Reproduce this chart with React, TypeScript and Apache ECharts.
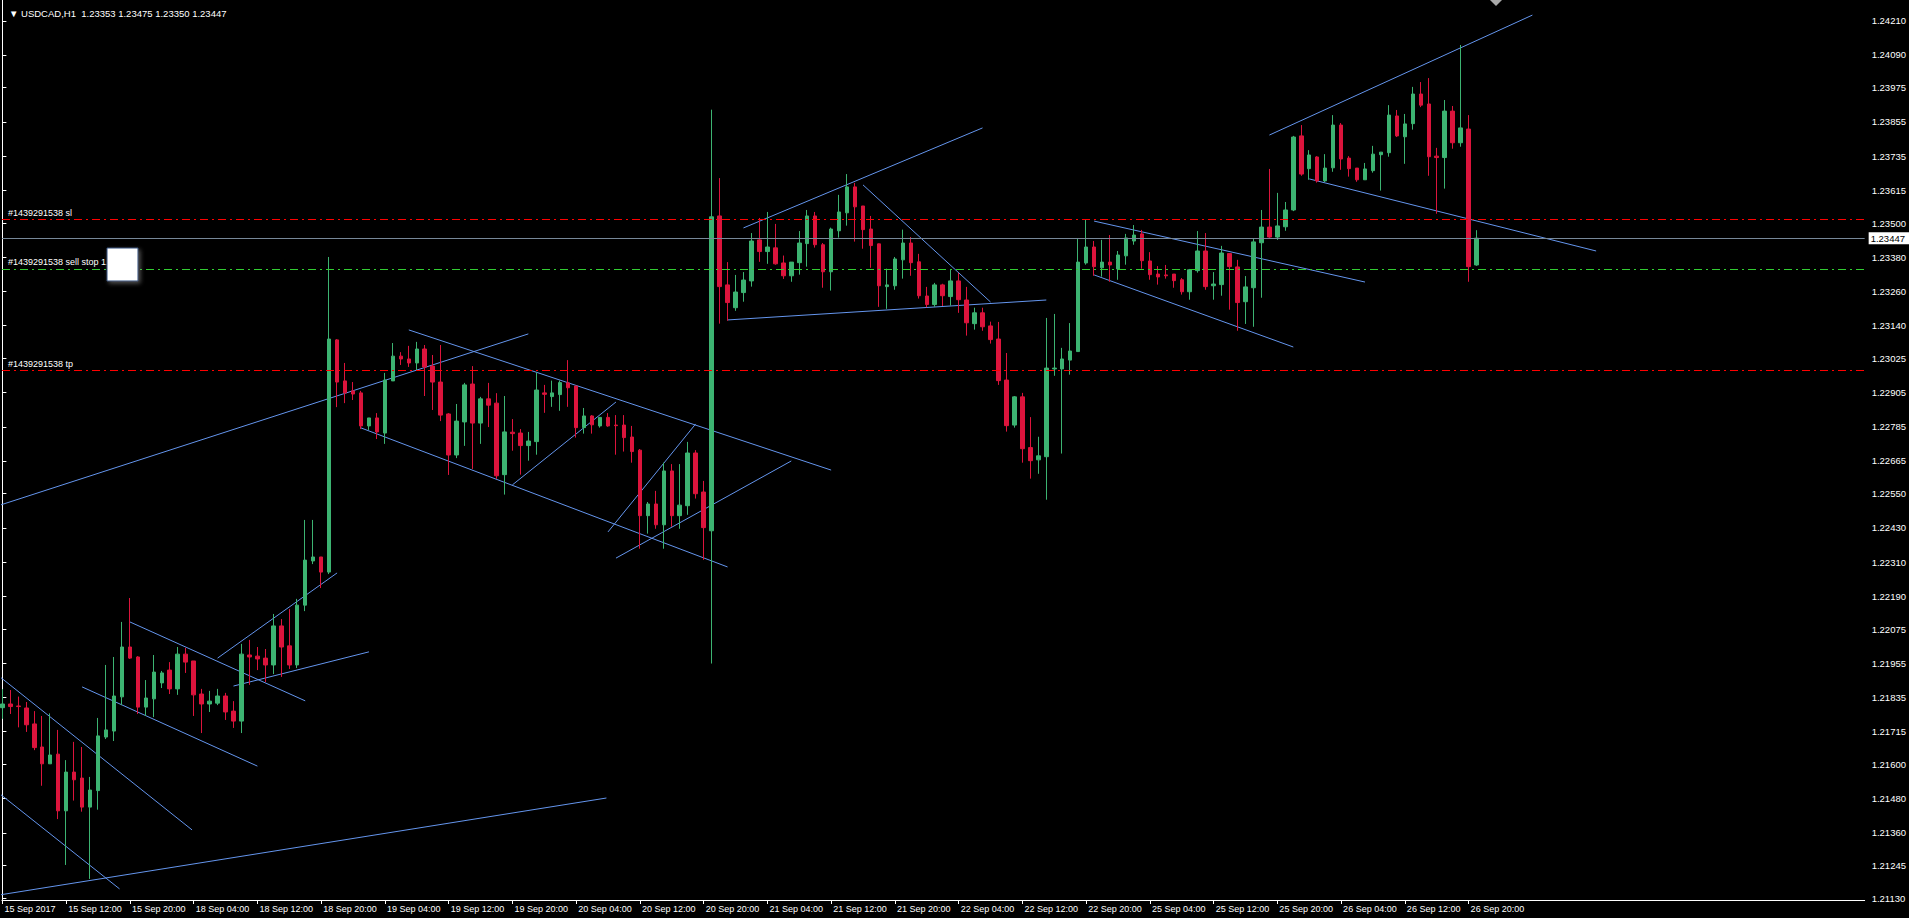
import React, { useEffect, useRef } from "react";
import * as echarts from "echarts";

const FONT = "'Liberation Sans', Arial, sans-serif";

// ---- data (USDCAD H1) ----
const opens = [
1.21799,1.21812,1.21805,1.21798,1.21742,1.21661,1.21602,1.21636,1.21437,1.21573,
1.21552,1.21450,1.21508,1.21696,1.21717,1.21837,1.22012,1.21977,1.21801,1.21830,
1.21886,1.21931,1.21865,1.21987,1.21963,1.21847,1.21812,1.21815,1.21840,1.21787,
1.21752,1.21984,1.21980,1.21973,1.21949,1.22086,1.22016,1.21949,1.22159,1.22314,
1.22328,1.22275,1.23090,1.22946,1.22911,1.22904,1.22788,1.22816,1.22763,1.22946,
1.23033,1.23023,1.23009,1.23058,1.22998,1.22942,1.22830,1.22686,1.22802,1.22935,
1.22798,1.22883,1.22868,1.22617,1.22766,1.22763,1.22719,1.22733,1.22904,1.22891,
1.22898,1.22939,1.22928,1.22782,1.22823,1.22788,1.22818,1.22791,1.22791,1.22749,
1.22703,1.22473,1.22514,1.22441,1.22630,1.22473,1.22508,1.22693,1.22556,1.22420,
1.23525,1.23283,1.23203,1.23256,1.23297,1.23441,1.23400,1.23413,1.23360,1.23315,
1.23361,1.23428,1.23525,1.23424,1.23329,1.23473,1.23536,1.23627,1.23560,1.23479,
1.23427,1.23277,1.23280,1.23371,1.23430,1.23364,1.23244,1.23214,1.23283,1.23242,
1.23297,1.23230,1.23147,1.23185,1.23139,1.23093,1.22949,1.22791,1.22890,1.22712,
1.22669,1.22680,1.22988,1.22988,1.23019,1.23049,1.23360,1.23416,1.23343,1.23363,
1.23339,1.23385,1.23437,1.23462,1.23367,1.23321,1.23318,1.23321,1.23301,1.23259,
1.23333,1.23402,1.23280,1.23284,1.23393,1.23346,1.23224,1.23273,1.23431,1.23486,
1.23451,1.23487,1.23546,1.23806,1.23691,1.23732,1.23648,1.23694,1.23844,1.23728,
1.23693,1.23652,1.23684,1.23740,1.23747,1.23876,1.23803,1.23849,1.23953,1.23918,
1.23735,1.23730,1.23893,1.23782,1.23830,1.23353];
const closes = [
1.21812,1.21803,1.21803,1.21739,1.21659,1.21602,1.21633,1.21437,1.21573,1.21546,
1.21450,1.21510,1.21700,1.21721,1.21840,1.22012,1.21973,1.21801,1.21833,1.21924,
1.21921,1.21865,1.21987,1.21959,1.21844,1.21812,1.21822,1.21840,1.21784,1.21752,
1.21987,1.21977,1.21970,1.21949,1.22086,1.22012,1.21949,1.22159,1.22317,1.22328,
1.22275,1.23093,1.22942,1.22904,1.22900,1.22788,1.22816,1.22767,1.22949,1.23033,
1.23023,1.23009,1.23058,1.22995,1.22942,1.22826,1.22686,1.22805,1.22932,1.22798,
1.22883,1.22861,1.22613,1.22767,1.22761,1.22719,1.22735,1.22914,1.22899,1.22904,
1.22940,1.22922,1.22782,1.22823,1.22792,1.22818,1.22788,1.22789,1.22747,1.22698,
1.22473,1.22514,1.22441,1.22630,1.22473,1.22510,1.22693,1.22550,1.22431,1.23522,
1.23277,1.23221,1.23258,1.23300,1.23437,1.23400,1.23416,1.23357,1.23315,1.23363,
1.23430,1.23525,1.23424,1.23329,1.23479,1.23539,1.23627,1.23557,1.23477,1.23421,
1.23280,1.23283,1.23374,1.23430,1.23361,1.23245,1.23214,1.23283,1.23245,1.23297,
1.23231,1.23150,1.23185,1.23136,1.23091,1.22947,1.22789,1.22890,1.22708,1.22666,
1.22683,1.22991,1.22991,1.23023,1.23051,1.23363,1.23416,1.23347,1.23363,1.23353,
1.23388,1.23448,1.23458,1.23368,1.23319,1.23311,1.23315,1.23298,1.23259,1.23336,
1.23402,1.23277,1.23286,1.23395,1.23347,1.23221,1.23276,1.23434,1.23486,1.23451,
1.23490,1.23546,1.23802,1.23672,1.23739,1.23648,1.23693,1.23844,1.23725,1.23691,
1.23652,1.23690,1.23742,1.23749,1.23879,1.23806,1.23848,1.23953,1.23914,1.23733,
1.23730,1.23893,1.23782,1.23834,1.23347,1.23447];
const lows = [
1.21760,1.21777,1.21730,1.21714,1.21650,1.21525,1.21602,1.21408,1.21247,1.21473,
1.21434,1.21198,1.21441,1.21689,1.21682,1.21808,1.21970,1.21777,1.21770,1.21766,
1.21868,1.21847,1.21844,1.21921,1.21770,1.21710,1.21784,1.21808,1.21756,1.21728,
1.21710,1.21879,1.21931,1.21889,1.21917,1.21907,1.21935,1.21938,1.22138,1.22303,
1.22219,1.22268,1.22854,1.22868,1.22879,1.22777,1.22774,1.22742,1.22725,1.22946,
1.23002,1.22995,1.22984,1.22893,1.22844,1.22805,1.22616,1.22675,1.22718,1.22637,
1.22725,1.22784,1.22602,1.22547,1.22701,1.22617,1.22666,1.22687,1.22834,1.22855,
1.22841,1.22855,1.22747,1.22761,1.22761,1.22782,1.22785,1.22687,1.22698,1.22659,
1.22357,1.22410,1.22427,1.22357,1.22434,1.22427,1.22476,1.22533,1.22318,1.21954,
1.23147,1.23157,1.23192,1.23224,1.23277,1.23364,1.23357,1.23354,1.23304,1.23294,
1.23319,1.23347,1.23414,1.23273,1.23263,1.23449,1.23491,1.23435,1.23410,1.23343,
1.23206,1.23199,1.23266,1.23305,1.23315,1.23235,1.23204,1.23206,1.23209,1.23210,
1.23185,1.23105,1.23126,1.23122,1.23077,1.22932,1.22768,1.22782,1.22659,1.22603,
1.22620,1.22529,1.22964,1.22691,1.22968,1.23049,1.23354,1.23315,1.23312,1.23294,
1.23301,1.23354,1.23424,1.23340,1.23301,1.23284,1.23305,1.23273,1.23249,1.23231,
1.23326,1.23266,1.23231,1.23245,1.23196,1.23122,1.23146,1.23136,1.23238,1.23448,
1.23441,1.23473,1.23542,1.23666,1.23652,1.23642,1.23644,1.23680,1.23687,1.23663,
1.23645,1.23652,1.23677,1.23614,1.23733,1.23802,1.23708,1.23828,1.23907,1.23666,
1.23533,1.23621,1.23761,1.23768,1.23294,1.23350];
const highs = [
1.21864,1.21861,1.21838,1.21819,1.21787,1.21770,1.21779,1.21721,1.21615,1.21679,
1.21661,1.21556,1.21763,1.21949,1.21977,1.22100,1.22184,1.21980,1.21896,1.21984,
1.21928,1.21959,1.22012,1.22009,1.21963,1.21865,1.21858,1.21865,1.21851,1.21822,
1.22023,1.22037,1.22012,1.22005,1.22128,1.22110,1.22145,1.22181,1.22458,1.22458,
1.22328,1.23381,1.23093,1.23009,1.22942,1.22911,1.22816,1.22833,1.22974,1.23079,
1.23047,1.23069,1.23083,1.23072,1.23037,1.23072,1.22833,1.22865,1.22939,1.22998,
1.22890,1.22939,1.22903,1.22893,1.22812,1.22777,1.22767,1.22975,1.22932,1.22947,
1.22947,1.23019,1.22928,1.22851,1.22826,1.22818,1.22833,1.22826,1.22826,1.22788,
1.22707,1.22521,1.22560,1.22659,1.22654,1.22654,1.22732,1.22703,1.22595,1.23898,
1.23658,1.23363,1.23318,1.23328,1.23465,1.23518,1.23539,1.23497,1.23386,1.23363,
1.23472,1.23546,1.23539,1.23430,1.23484,1.23599,1.23672,1.23641,1.23560,1.23525,
1.23428,1.23340,1.23381,1.23477,1.23451,1.23392,1.23276,1.23290,1.23287,1.23336,
1.23325,1.23276,1.23203,1.23203,1.23154,1.23153,1.23044,1.22893,1.22904,1.22819,
1.22750,1.23167,1.23181,1.23062,1.23149,1.23445,1.23512,1.23437,1.23441,1.23458,
1.23402,1.23462,1.23493,1.23476,1.23398,1.23349,1.23353,1.23321,1.23307,1.23339,
1.23472,1.23465,1.23328,1.23420,1.23395,1.23371,1.23314,1.23444,1.23546,1.23690,
1.23606,1.23574,1.23806,1.23844,1.23756,1.23735,1.23742,1.23879,1.23851,1.23735,
1.23693,1.23711,1.23771,1.23749,1.23914,1.23897,1.23883,1.23978,1.23995,1.24009,
1.23764,1.23932,1.23911,1.24125,1.23879,1.23475];

const timeLabels = [
  "15 Sep 2017", "15 Sep 12:00", "15 Sep 20:00", "18 Sep 04:00", "18 Sep 12:00", "18 Sep 20:00",
  "19 Sep 04:00", "19 Sep 12:00", "19 Sep 20:00", "20 Sep 04:00", "20 Sep 12:00", "20 Sep 20:00",
  "21 Sep 04:00", "21 Sep 12:00", "21 Sep 20:00", "22 Sep 04:00", "22 Sep 12:00", "22 Sep 20:00",
  "25 Sep 04:00", "25 Sep 12:00", "25 Sep 20:00", "26 Sep 04:00", "26 Sep 12:00", "26 Sep 20:00",
];
const barsPerLabel = 8;

const priceLabels = [
  "1.24210", "1.24090", "1.23975", "1.23855", "1.23735", "1.23615", "1.23500", "1.23380", "1.23260",
  "1.23140", "1.23025", "1.22905", "1.22785", "1.22665", "1.22550", "1.22430", "1.22310", "1.22190",
  "1.22075", "1.21955", "1.21835", "1.21715", "1.21600", "1.21480", "1.21360", "1.21245", "1.21130",
];

const priceMin = 1.21124;
const priceMax = 1.24283;

// order levels
const slPrice = 1.23514;
const sellStopPrice = 1.23339;
const tpPrice = 1.22984;
const bidPrice = 1.23447;
const orderId = "#1439291538";

// trend lines: [barIndex1, price1, barIndex2, price2]
const trendLines = [
  [-0.3, 1.21907, 23.8, 1.21370],
  [-0.3, 1.21496, 14.7, 1.21163],
  [10, 1.21872, 32, 1.21594],
  [16, 1.22100, 38, 1.21823],
  [27, 1.21973, 42, 1.22272],
  [29, 1.21875, 46, 1.21995],
  [-0.3, 1.21142, 75.8, 1.21482],
  [-0.3, 1.22510, 66, 1.23111],
  [51, 1.23125, 104, 1.22633],
  [45, 1.22781, 91, 1.22293],
  [64, 1.22581, 77, 1.22872],
  [76, 1.22416, 87, 1.22795],
  [77, 1.22324, 99, 1.22665],
  [93, 1.23483, 123, 1.23834],
  [108, 1.23634, 124, 1.23223],
  [91, 1.23160, 131, 1.23230],
  [137, 1.23507, 171, 1.23293],
  [137, 1.23318, 162, 1.23065],
  [159, 1.23809, 192, 1.24230],
  [164, 1.23655, 200, 1.23402],
];

const header = "\u25BC USDCAD,H1  1.23353 1.23475 1.23350 1.23447";

export default function App() {
  const ref = useRef<HTMLDivElement>(null);
  useEffect(() => {
    if (!ref.current) return;
    document.body.style.margin = "0";
    document.body.style.background = "#000";
    const chart = echarts.init(ref.current, null, { renderer: "svg" });
    const W = 1909;
    const gridLeft = 2;
    const gridRight = 37;
    const barPx = 8;
    const xMin = -0.05;
    const xMax = xMin + (W - gridLeft - gridRight) / barPx;
    const xTickVals = timeLabels.map((_, k) => k * barsPerLabel);
    const yTickVals = priceLabels.map((s) => parseFloat(s));
    const DASHDOT = [8, 4, 2, 4];

    const candleData = opens.map((o, i) => [i, o, closes[i], lows[i], highs[i]]);

    const lineSeries = trendLines.map((t) => ({
      type: "line",
      data: [[t[0], t[1]], [t[2], t[3]]],
      showSymbol: false,
      symbol: "none",
      silent: true,
      lineStyle: { color: "#6495ED", width: 1 },
      z: 3,
    }));

    const orderLabel = (text: string) => ({
      show: true,
      position: "insideStartTop",
      formatter: text,
      color: "#ffffff",
      fontSize: 9,
      fontFamily: FONT,
      distance: [6, 2],
    });

    const levelSeries = {
      type: "line",
      data: [[xMin, bidPrice], [xMax, bidPrice]],
      showSymbol: false,
      symbol: "none",
      silent: true,
      lineStyle: { color: "#778899", width: 1, opacity: 0 },
      z: 2,
      markLine: {
        silent: true,
        symbol: ["none", "none"],
        precision: 5,
        animation: false,
        data: [
          { yAxis: slPrice, lineStyle: { color: "#FF0000", type: DASHDOT, width: 1 }, label: orderLabel(orderId + " sl") },
          { yAxis: sellStopPrice, lineStyle: { color: "#32CD32", type: DASHDOT, width: 1 }, label: orderLabel(orderId + " sell stop 1.23339") },
          { yAxis: tpPrice, lineStyle: { color: "#FF0000", type: DASHDOT, width: 1 }, label: orderLabel(orderId + " tp") },
          {
            yAxis: bidPrice,
            lineStyle: { color: "#778899", type: "solid", width: 1 },
            label: {
              show: true,
              position: "end",
              formatter: bidPrice.toFixed(5),
              color: "#000000",
              backgroundColor: "#ffffff",
              padding: [1, 4, 1, 2],
              fontSize: 9.5,
              fontFamily: FONT,
              distance: 4,
            },
          },
        ],
      },
    };

    const option: any = {
      animation: false,
      backgroundColor: "#000000",
      textStyle: { fontFamily: FONT },
      title: {
        text: header,
        left: 4,
        top: 3,
        textStyle: { color: "#ffffff", fontSize: 9.5, fontWeight: "normal", fontFamily: FONT },
      },
      grid: { left: gridLeft, right: gridRight, top: 0, bottom: 18 },
      xAxis: {
        type: "value",
        min: xMin,
        max: xMax,
        splitLine: { show: false },
        axisLine: { show: true, onZero: false, lineStyle: { color: "#ffffff", width: 1 } },
        axisTick: {
          show: true,
          customValues: xTickVals,
          length: 4,
          lineStyle: { color: "#ffffff" },
        },
        axisLabel: {
          customValues: xTickVals,
          formatter: (v: number) => timeLabels[Math.round(v / barsPerLabel)] ?? "",
          color: "#ffffff",
          fontSize: 9,
          fontFamily: FONT,
          align: "left",
          margin: 4,
          padding: [0, 0, 0, 2],
        },
      },
      yAxis: [
        {
          type: "value",
          position: "right",
          min: priceMin,
          max: priceMax,
          splitLine: { show: false },
          axisLine: { show: true, lineStyle: { color: "#ffffff", width: 1 } },
          axisTick: {
            show: true,
            customValues: yTickVals,
            length: 4,
            lineStyle: { color: "#ffffff" },
          },
          axisLabel: {
            customValues: yTickVals,
            formatter: (v: number) => v.toFixed(5),
            color: "#ffffff",
            fontSize: 9.5,
            fontFamily: FONT,
            margin: 7,
          },
        },
        {
          type: "value",
          position: "left",
          min: priceMin,
          max: priceMax,
          splitLine: { show: false },
          axisLine: { show: true, lineStyle: { color: "#ffffff", width: 1 } },
          axisTick: { show: false },
          axisLabel: { show: false },
        },
      ],
      series: [
        levelSeries,
        {
          type: "candlestick",
          data: candleData,
          encode: { x: 0, y: [1, 2, 3, 4] },
          barWidth: 4,
          silent: true,
          itemStyle: {
            color: "#3CB371",
            color0: "#DC143C",
            borderColor: "#3CB371",
            borderColor0: "#DC143C",
            borderWidth: 1,
          },
          z: 4,
        },
        ...lineSeries,
      ],
      graphic: [
        {
          type: "rect",
          z: 100,
          shape: { x: 107, y: 248, width: 31, height: 33 },
          style: {
            fill: "#ffffff",
            stroke: "#2B4A7A",
            lineWidth: 1,
            shadowBlur: 4,
            shadowOffsetX: 2,
            shadowOffsetY: 2,
            shadowColor: "rgba(160,160,160,0.5)",
          },
        },
        {
          type: "polygon",
          z: 100,
          shape: { points: [[1490, 0], [1502, 0], [1496, 6]] },
          style: { fill: "#A9A9A9" },
        },
      ],
    };
    chart.setOption(option);
    return () => chart.dispose();
  }, []);
  return (
    <div
      ref={ref}
      style={{ position: "fixed", left: 0, top: 0, width: 1909, height: 918, background: "#000" }}
    />
  );
}
